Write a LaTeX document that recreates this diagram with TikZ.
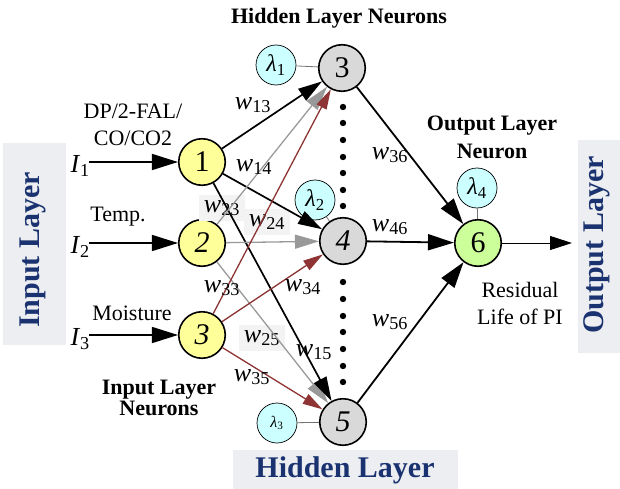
\documentclass[tikz,border=0pt]{standalone}
\usepackage{fontspec}
\setmainfont{Liberation Serif}
\usetikzlibrary{arrows.meta}
\definecolor{yel}{HTML}{FFFF99}
\definecolor{hidgray}{HTML}{D9D9D9}
\definecolor{outgreen}{HTML}{CCFF99}
\definecolor{lamcyan}{HTML}{CCFFFF}
\definecolor{boxbg}{HTML}{EDEEF1}
\definecolor{labbg}{HTML}{F3F3F3}
\definecolor{navy}{HTML}{1A3370}
\definecolor{linegray}{HTML}{999999}
\definecolor{darkred}{HTML}{8E3434}
\newcommand{\wgt}[1]{\textit{w}\textsubscript{#1}}
\newcommand{\lam}[1]{\textit{λ}\textsubscript{#1}}
\begin{document}
\begin{tikzpicture}[x=1pt,y=-1pt,
  neuron/.style={circle,draw,line width=1.6pt,minimum size=46.5pt,inner sep=0pt,font=\fontsize{30}{30}\selectfont},
  inneur/.style={neuron,fill=yel},
  hidneur/.style={neuron,fill=hidgray},
  outneur/.style={neuron,fill=outgreen},
  lamnode/.style={circle,draw,line width=0.7pt,fill=lamcyan,minimum size=40pt,inner sep=0pt,font=\fontsize{24}{24}\selectfont},
  wlab/.style={inner sep=1pt,font=\fontsize{26}{26}\selectfont},
  wbg/.style={wlab,fill=labbg,inner sep=5pt},
  txt/.style={font=\fontsize{22}{27}\selectfont,align=center,inner sep=0pt},
  btxt/.style={font=\fontsize{22}{28}\selectfont\bfseries,align=center,inner sep=0pt},
  layerbox/.style={fill=boxbg,draw=none},
  layertxt/.style={font=\fontsize{30}{30}\selectfont\bfseries,text=navy,inner sep=0pt},
  blkarrow/.style={draw=black,line width=1.7pt,-{Triangle[length=24pt,width=14pt]}},
  gryarrow/.style={draw=linegray,line width=1.3pt,-{Triangle[length=24pt,width=14pt]}},
  redarrow/.style={draw=darkred,line width=1.3pt,-{Triangle[length=20pt,width=11pt]}},
  bigarrow/.style={draw=black,line width=1.8pt,-{Triangle[length=26pt,width=16pt]}},
  lamlink/.style={draw=black!55,line width=0.8pt}
]
\useasboundingbox (0,0) rectangle (620,489);

% layer boxes
\fill[layerbox] (3,143) rectangle (66,345);
\fill[layerbox] (578,140) rectangle (620,353);
\fill[layerbox] (233,450) rectangle (458,489);
\node[layertxt,rotate=90] (inlayer) at (33,250) {Input Layer};
\node[layertxt,rotate=90] (outlayer) at (597,245) {Output Layer};
\node[layertxt] (hidlayer) at (345,470) {Hidden Layer};

% titles
\node[btxt] (hidtitle) at (339,18) {Hidden Layer Neurons};
\node[btxt] (outtitle) at (492,137) {Output Layer\\Neuron};
\node[btxt,font=\fontsize{22}{21}\selectfont\bfseries] (intitle) at (159,398) {Input Layer\\Neurons};

% input descriptions
\node[txt] (d1) at (133,125) {DP/2-FAL/\\CO/CO2};
\node[txt] (d2) at (118,217) {Temp.};
\node[txt] (d3) at (132,313) {Moisture};
\node[txt] (res) at (520,303) {Residual\\Life of PI};

% neurons
\node[inneur] (i1) at (202,162) {1};
\node[inneur] (i2) at (202,243) {\textit{2}};
\node[inneur] (i3) at (202,335) {\textit{3}};
\node[hidneur] (h3) at (342,68) {3};
\node[hidneur] (h4) at (343,241) {\textit{4}};
\node[hidneur] (h5) at (343,422) {\textit{5}};
\node[outneur] (o6) at (478,243) {6};

% bias nodes
\node[lamnode] (l1) at (276,65) {\lam{1}};
\node[lamnode] (l2) at (315,200) {\lam{2}};
\node[lamnode,font=\fontsize{16}{16}\selectfont] (l3) at (277,423) {\lam{3}};
\node[lamnode] (l4) at (477,188) {\lam{4}};
\draw[lamlink] (l1) -- (h3);
\draw[lamlink] (l2) -- (h4);
\draw[lamlink] (l3) -- (h5);
\draw[lamlink] (l4) -- (o6);

% dots
\foreach \yy in {107,123,140,157,173,190,206} \fill (343,\yy) circle (3.2);
\foreach \yy in {282,299,316,332,349,366,382} \fill (343,\yy) circle (3.2);

% weight labels with background
\node[wbg] (w23) at (222,208) {\wgt{23}};
\node[wbg] (w24) at (267,222) {\wgt{24}};
\node[wbg] (w25) at (262,338) {\wgt{25}};

% input arrows
\coordinate (s1) at (89,162);
\coordinate (s2) at (89,243);
\coordinate (s3) at (89,335);
\node[wlab,anchor=east] (I1) at (91,166) {\textit{I}\textsubscript{1}};
\node[wlab,anchor=east] (I2) at (91,247) {\textit{I}\textsubscript{2}};
\node[wlab,anchor=east] (I3) at (91,339) {\textit{I}\textsubscript{3}};
\draw[bigarrow,line width=1.6pt] (s1) -- (i1);
\draw[bigarrow,line width=1.6pt] (s2) -- (i2);
\draw[bigarrow,line width=1.6pt] (s3) -- (i3);

% input -> hidden
\draw[gryarrow] (i2) -- (h5);
\draw[redarrow] (i3) -- (h5);
\draw[blkarrow] (i1) -- (h5);
\draw[blkarrow] (i1) -- (h4);
\draw[gryarrow] (i2) -- (h4);
\draw[redarrow] (i3) -- (h4);
\draw[blkarrow] (i1) -- (h3);
\draw[gryarrow] (i2) -- (h3);
\draw[redarrow] (i3) -- (h3);

% hidden -> output
\draw[bigarrow] (h3) -- (o6);
\draw[bigarrow] (h4) -- (o6);
\draw[bigarrow] (h5) -- (o6);
\coordinate (oend) at (572,243);
\draw[draw=black,line width=1pt,-{Triangle[length=22pt,width=14pt]}] (o6) -- (oend);

% weight labels
\node[wlab] (w13) at (253,105) {\wgt{13}};
\node[wlab] (w14) at (254,167) {\wgt{14}};
\node[wlab] (w33) at (222,288) {\wgt{33}};
\node[wlab] (w34) at (303,287) {\wgt{34}};
\node[wlab] (w15) at (314,352) {\wgt{15}};
\node[wlab] (w35) at (252,377) {\wgt{35}};
\node[wlab] (w36) at (390,155) {\wgt{36}};
\node[wlab] (w46) at (390,227) {\wgt{46}};
\node[wlab] (w56) at (390,322) {\wgt{56}};
\end{tikzpicture}
\end{document}
